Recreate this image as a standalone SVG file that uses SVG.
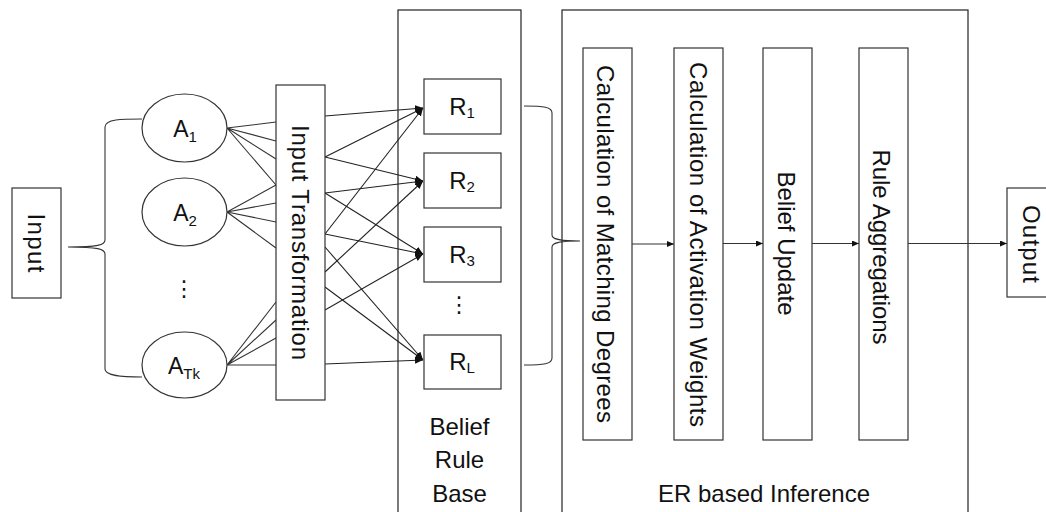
<svg xmlns="http://www.w3.org/2000/svg" width="1046" height="512" viewBox="0 0 1046 512">
<style>
  .box { fill: #fff; stroke: #333; stroke-width: 1.2; }
  .frame { fill: none; stroke: #222; stroke-width: 1.2; }
  .t { font-family: "Liberation Sans", Arial, sans-serif; font-size: 24px; fill: #111; }
  .lbl { font-family: "Liberation Sans", Arial, sans-serif; font-size: 23px; fill: #111; }
  .rl { font-size: 24px; }
  .sub { font-size: 15px; }
  .dots { font-family: "DejaVu Sans", sans-serif; font-size: 22px; fill: #111; }
  .ln { fill: none; stroke: #333; stroke-width: 1.1; }
  .arr { fill: none; stroke: #222; stroke-width: 1.1; marker-end: url(#ah); }
</style>
<defs>
  <marker id="ah" viewBox="0 0 8 7" refX="8" refY="3.5" markerWidth="8" markerHeight="7" markerUnits="userSpaceOnUse" orient="auto">
    <path d="M0,0 L8,3.5 L0,7 z" fill="#111"/>
  </marker>
  <marker id="ahs" viewBox="0 0 7 6" refX="7" refY="3" markerWidth="7" markerHeight="6" markerUnits="userSpaceOnUse" orient="auto">
    <path d="M0,0 L7,3 L0,6 z" fill="#111"/>
  </marker>
</defs>
<rect width="1046" height="512" fill="#fff"/>

<!-- containers -->
<g id="belief-rule-base">
  <rect class="frame" x="398" y="10" width="123" height="520"/>
  <text class="t" text-anchor="middle" x="459.5" y="435">Belief</text>
  <text class="t" text-anchor="middle" x="459.5" y="468">Rule</text>
  <text class="t" text-anchor="middle" x="459.5" y="502">Base</text>
</g>
<g id="er-inference">
  <rect class="frame" x="562" y="10" width="406" height="520"/>
  <text class="t" text-anchor="middle" x="764" y="502">ER based Inference</text>
</g>

<!-- connectors -->
<g id="connectors">
  <path class="ln" d="M142,119 C122,119 105,119 105,127 L105,240 C105,245 98,247 68,247 C98,247 105,249 105,254 L105,369 C105,376 122,377 142,377"/>
  <path class="ln" d="M524,106 C544,106 552,107 552,113 L552,235 C552,239 558,241 580,241 C558,241 552,243 552,247 L552,358 C552,364 544,365 524,365"/>
  <!-- A to Input Transformation -->
  <path class="ln" d="M227,128 L276,122 M227,128 L276,141 M227,128 L276,159 M227,128 L276,185"/>
  <path class="ln" d="M227,212 L276,185 M227,212 L276,203 M227,212 L276,222 M227,212 L276,248"/>
  <path class="ln" d="M227,365 L276,302 M227,365 L276,320 M227,365 L276,338 M227,365 L276,365"/>
  <!-- Input Transformation to rules -->
  <line class="arr" x1="325" y1="116" x2="423" y2="108"/>
  <line class="arr" x1="325" y1="157" x2="423" y2="108"/>
  <line class="arr" x1="325" y1="157" x2="423" y2="181"/>
  <line class="arr" x1="325" y1="193" x2="423" y2="181"/>
  <line class="arr" x1="325" y1="193" x2="423" y2="254"/>
  <line class="arr" x1="325" y1="234" x2="423" y2="108"/>
  <line class="arr" x1="325" y1="234" x2="423" y2="254"/>
  <line class="arr" x1="325" y1="247" x2="423" y2="360"/>
  <line class="arr" x1="325" y1="272" x2="423" y2="181"/>
  <line class="arr" x1="325" y1="287" x2="423" y2="360"/>
  <line class="arr" x1="325" y1="310" x2="423" y2="254"/>
  <line class="arr" x1="325" y1="364" x2="423" y2="360"/>
  <!-- ER chain -->
  <line class="ln" style="marker-end:url(#ahs)" x1="632" y1="244" x2="674" y2="244"/>
  <line class="ln" style="marker-end:url(#ahs)" x1="723" y1="243.5" x2="763" y2="243.5"/>
  <line class="ln" style="marker-end:url(#ahs)" x1="812" y1="243.5" x2="859" y2="243.5"/>
  <line class="ln" style="marker-end:url(#ahs)" x1="908" y1="243.5" x2="1007" y2="243.5"/>
</g>

<!-- nodes -->
<g id="input">
  <rect class="box" x="12" y="188" width="49" height="110"/>
  <text class="t" text-anchor="middle" transform="translate(28,243) rotate(90)" textLength="59" lengthAdjust="spacing">Input</text>
</g>
<g id="a1">
  <ellipse class="box" cx="184.5" cy="128" rx="42.5" ry="34"/>
  <text class="lbl" text-anchor="middle" x="185" y="137">A<tspan class="sub" dy="5">1</tspan></text>
</g>
<g id="a2">
  <ellipse class="box" cx="184.5" cy="212" rx="42.5" ry="34"/>
  <text class="lbl" text-anchor="middle" x="185" y="221">A<tspan class="sub" dy="5">2</tspan></text>
</g>
<text class="dots" text-anchor="middle" x="184" y="296">⋮</text>
<g id="atk">
  <ellipse class="box" cx="184.5" cy="365" rx="42.5" ry="33"/>
  <text class="lbl" text-anchor="middle" x="184" y="374">A<tspan class="sub" dy="5">Tk</tspan></text>
</g>
<g id="input-transformation">
  <rect class="box" x="276" y="85" width="49" height="315"/>
  <text class="t" text-anchor="middle" transform="translate(291.5,242.5) rotate(90)" textLength="235" lengthAdjust="spacing">Input Transformation</text>
</g>
<g id="r1">
  <rect class="box" x="424" y="79" width="77" height="55"/>
  <text class="lbl rl" text-anchor="middle" x="462" y="115">R<tspan class="sub" dy="3">1</tspan></text>
</g>
<g id="r2">
  <rect class="box" x="424" y="153" width="77" height="55"/>
  <text class="lbl rl" text-anchor="middle" x="462" y="189">R<tspan class="sub" dy="3">2</tspan></text>
</g>
<g id="r3">
  <rect class="box" x="424" y="227" width="77" height="55"/>
  <text class="lbl rl" text-anchor="middle" x="462" y="263">R<tspan class="sub" dy="3">3</tspan></text>
</g>
<text class="dots" text-anchor="middle" x="459" y="312">⋮</text>
<g id="rl">
  <rect class="box" x="424" y="335" width="77" height="54"/>
  <text class="lbl rl" text-anchor="middle" x="462" y="370">R<tspan class="sub" dy="3">L</tspan></text>
</g>
<g id="matching">
  <rect class="box" x="583" y="48" width="49" height="392"/>
  <text class="t" text-anchor="middle" transform="translate(597,244) rotate(90)" textLength="358" lengthAdjust="spacing">Calculation of Matching Degrees</text>
</g>
<g id="activation">
  <rect class="box" x="674" y="48" width="49" height="392"/>
  <text class="t" text-anchor="middle" transform="translate(689.5,244.5) rotate(90)" textLength="365" lengthAdjust="spacing">Calculation of Activation Weights</text>
</g>
<g id="belief-update">
  <rect class="box" x="763" y="48" width="49" height="392"/>
  <text class="t" text-anchor="middle" transform="translate(777.5,243.5) rotate(90)">Belief Update</text>
</g>
<g id="rule-aggregations">
  <rect class="box" x="859" y="48" width="49" height="392"/>
  <text class="t" text-anchor="middle" transform="translate(873,247) rotate(90)" textLength="195" lengthAdjust="spacing">Rule Aggregations</text>
</g>
<g id="output">
  <rect class="box" x="1007" y="188" width="49" height="109"/>
  <text class="t" text-anchor="middle" transform="translate(1022.5,244) rotate(90)" textLength="78" lengthAdjust="spacing">Output</text>
</g>
</svg>
